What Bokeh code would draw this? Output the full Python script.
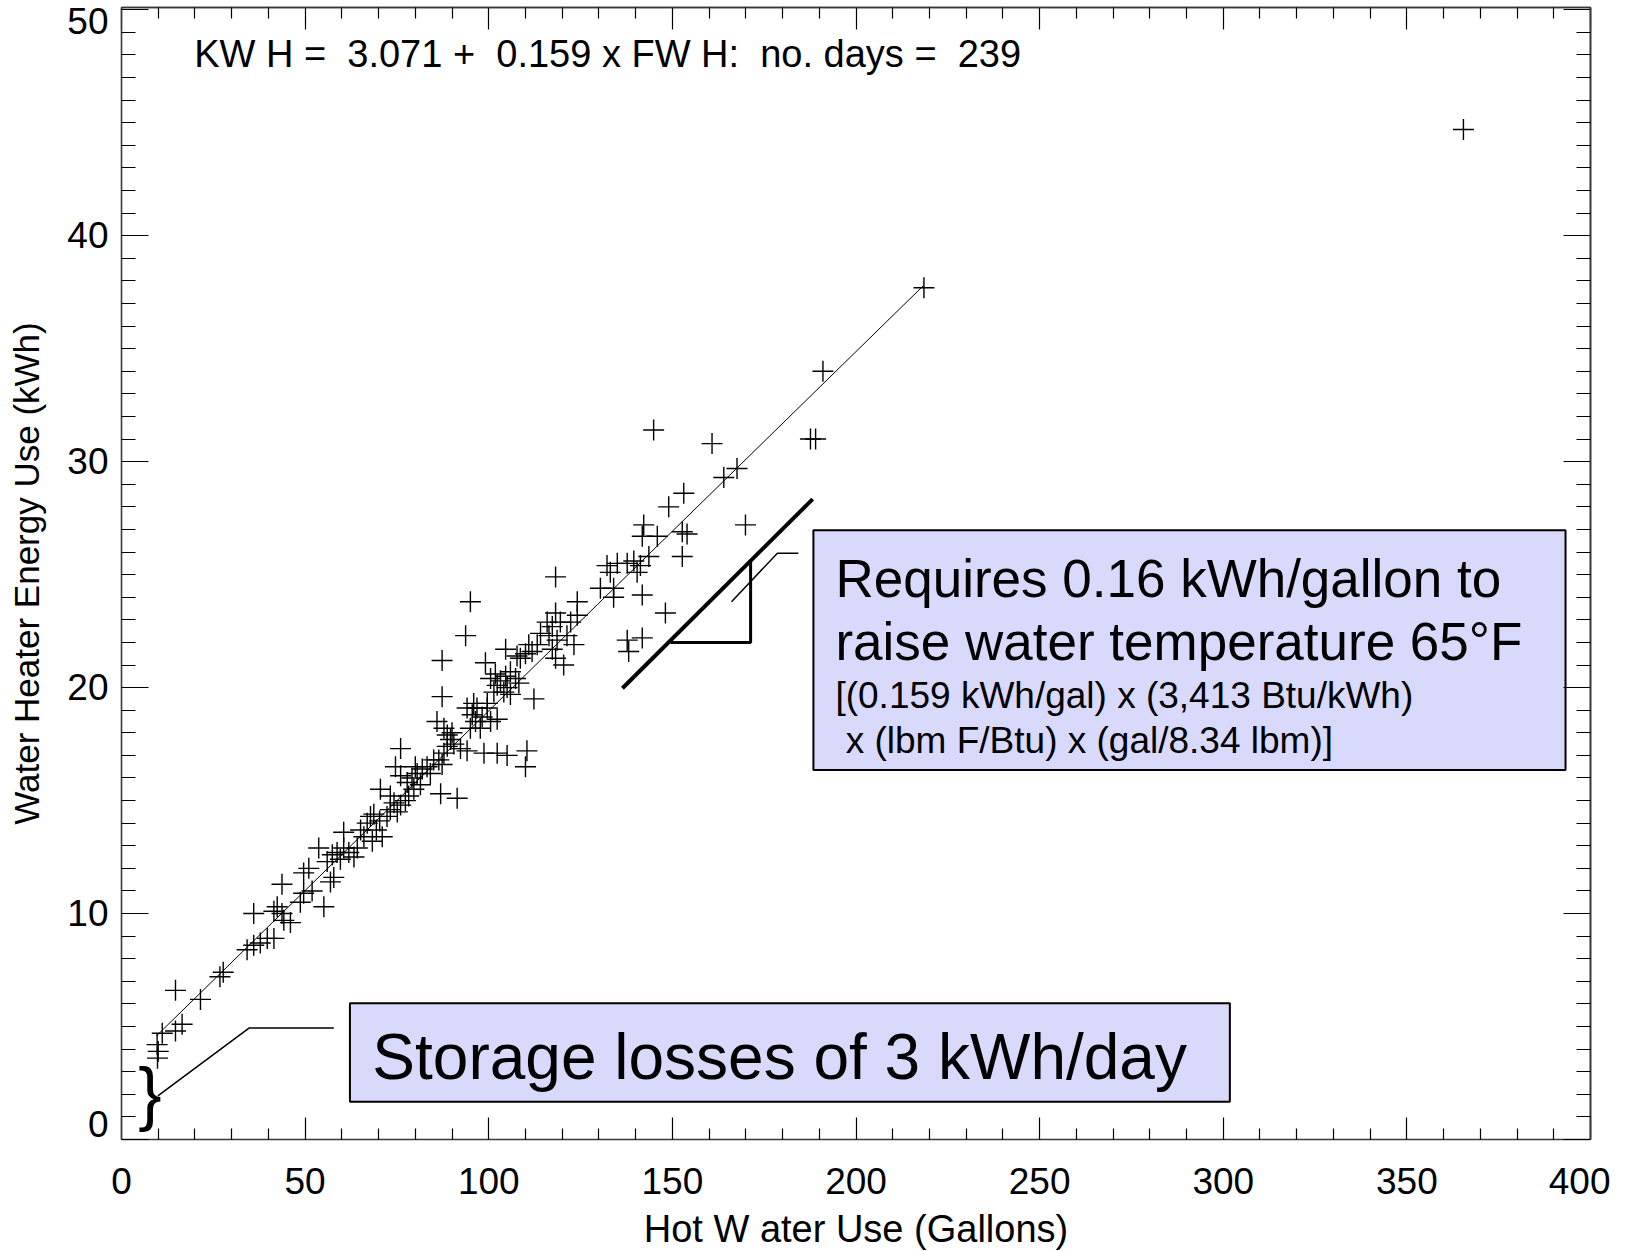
from bokeh.plotting import figure
from bokeh.models import LinearAxis, FixedTicker, Range1d
from bokeh.embed import file_html
from bokeh.resources import INLINE
from bokeh.core.properties import value

FONT = "Liberation Sans"
NB = "\u00a0"

# ---------------- data ----------------
gallons = [
    9.7, 10.0, 9.8, 11.1, 14.7, 14.7, 16.5, 21.5, 26.8, 27.7,
    34.2, 36.0, 37.8, 39.7, 41.5, 36.0, 42.4, 43.7, 44.2, 46.0,
    41.5, 48.7, 49.6, 55.1, 43.7, 49.6, 51.0, 56.9, 57.8, 51.9,
    53.7, 56.0, 57.4, 58.7, 59.6, 60.5, 61.9, 63.3, 64.2, 60.5,
    65.1, 66.0, 66.9, 68.3, 68.7, 69.4, 70.3, 71.0, 72.3, 67.8,
    70.5, 73.2, 76.0, 74.6, 76.0, 74.2, 76.0, 77.3, 75.1, 78.2,
    73.2, 77.8, 79.1, 80.5, 81.9, 79.6, 81.4, 83.2, 84.1, 85.0,
    80.0, 86.9, 91.4, 87.3, 86.4, 87.8, 88.7, 89.6, 90.5, 87.3,
    90.0, 88.7, 85.9, 87.8, 92.3, 94.1, 98.7, 102.3, 105.0, 110.4,
    110.0, 112.3, 94.1, 95.5, 96.4, 96.8, 97.7, 98.2, 99.6, 100.5,
    99.6, 102.3, 101.4, 104.1, 105.9, 95.9, 95.0,
    118.2, 95.0, 93.7, 87.3, 99.1, 104.6, 107.7, 108.6, 110.0, 111.8,
    110.9, 113.2, 100.5, 101.8, 103.2, 104.6, 105.9, 107.3, 108.2, 102.3,
    105.0, 115.9, 117.3, 118.2, 119.5, 116.4, 118.6, 117.3, 118.2, 120.4,
    114.1, 123.2, 121.3, 124.1, 124.1, 122.3, 130.4, 134.0, 134.0, 133.1,
    132.2, 135.0, 137.7, 139.5, 140.4, 141.3, 141.8, 148.1, 137.7, 141.8,
    138.1,
    144.9, 160.8, 187.6, 189.0, 167.6, 164.0, 153.1, 149.0, 142.2, 141.8,
    145.9, 152.7, 154.0, 143.6, 152.7, 169.9,
    191.0, 218.5, 365.4,
]
kwh = [
    4.2, 3.9, 3.6, 4.7, 6.6, 4.8, 5.1, 6.2, 7.2, 7.4,
    8.4, 8.6, 8.7, 8.9, 8.9, 10.0, 10.3, 10.0, 9.7, 9.6,
    10.1, 10.5, 10.9, 10.3, 11.3, 11.8, 12.0, 11.4, 11.6, 11.0,
    12.9, 12.3, 12.6, 12.7, 12.4, 12.9, 12.7, 12.5, 12.9, 13.6,
    13.7, 13.4, 14.0, 13.2, 14.4, 13.7, 14.1, 13.4, 14.3, 14.3,
    15.5, 15.2, 17.3, 16.5, 16.1, 14.9, 14.8, 15.0, 14.5, 15.2,
    14.6, 15.8, 16.0, 16.2, 16.4, 15.5, 15.7, 16.5, 16.2, 16.8,
    16.5, 15.3, 15.1, 19.6, 16.8, 17.1, 17.4, 17.7, 17.5, 16.6,
    18.0, 17.9, 18.5, 18.2, 17.3, 17.2, 17.1, 17.1, 17.0, 17.2,
    16.5, 19.5, 19.1, 18.8, 18.5, 19.1, 18.2, 18.7, 19.1, 18.5,
    19.3, 18.6, 19.8, 19.8, 19.7, 19.3, 18.2,
    24.9, 23.8, 22.3, 21.2, 21.1, 21.7, 21.4, 21.3, 21.5, 21.6,
    21.9, 21.9, 20.4, 20.6, 20.3, 20.5, 20.7, 20.4, 20.2, 20.1,
    20.0, 22.9, 22.7, 23.3, 22.9, 22.3, 22.1, 21.7, 21.3, 21.0,
    22.4, 21.9, 22.3, 23.8, 23.2, 22.9, 24.4, 24.4, 24.0, 25.1,
    25.4, 25.5, 25.5, 25.6, 25.1, 25.4, 24.1, 23.3, 22.1, 22.2,
    21.6,
    31.4, 30.8, 31.0, 31.0, 29.7, 29.3, 28.6, 28.0, 27.2, 26.7,
    26.7, 26.9, 26.8, 25.8, 25.8, 27.2,
    34.0, 37.7, 44.7,
]

fit_intercept = 3.071
fit_slope = 0.159
n_days = 239
fit_x = [9.5, 218.5]
fit_y = [fit_intercept + fit_slope * v for v in fit_x]

x_major_ticks = [0, 50, 100, 150, 200, 250, 300, 350, 400]
y_major_ticks = [0, 10, 20, 30, 40, 50]
x_minor_step = 10
y_minor_step = 1
x_minor_ticks = [v for v in range(0, 401, x_minor_step) if v not in x_major_ticks]
y_minor_ticks = [v for v in range(0, 51, y_minor_step) if v not in y_major_ticks]

equation_text = ("KW H =" + NB + " 3.071 +" + NB + " 0.159 x FW H:" + NB + " no. days =" + NB
                 + " " + str(n_days))
storage_text = "Storage losses of 3 kWh/day"
req_lines_big = ["Requires 0.16 kWh/gallon to", "raise water temperature 65°F"]
req_lines_small = ["[(0.159 kWh/gal) x (3,413 Btu/kWh)", NB + "x (lbm F/Btu) x (gal/8.34 lbm)]"]

# annotation geometry (data units)
slope_bar_x = [136.4, 188.2]
slope_bar_y = [19.97, 28.34]
tri_x = [149.5, 171.3, 171.3]
tri_y = [22.0, 22.0, 25.6]
req_leader_x = [166.1, 178.6, 184.3]
req_leader_y = [23.8, 25.95, 25.95]
sto_leader_x = [9.9, 34.8, 57.8]
sto_leader_y = [1.93, 4.94, 4.94]

# ---------------- figure ----------------
p = figure(frame_width=1469, frame_height=1132,
           x_range=Range1d(0, 400), y_range=Range1d(0, 50.1),
           output_backend="svg", toolbar_location=None,
           min_border_left=121, min_border_top=7, min_border_right=20,
           min_border_bottom=104,
           background_fill_color="white", border_fill_color="white")
p.grid.visible = False
p.outline_line_color = None

AX_COL = "#3a3a3a"
TICK_FS = "37px"


def style_axis(ax, major_in, minor_in):
    ax.axis_line_color = AX_COL
    ax.axis_line_width = 1.6
    ax.major_tick_in = major_in
    ax.major_tick_out = 0
    ax.minor_tick_in = minor_in
    ax.minor_tick_out = 0
    ax.major_tick_line_color = "black"
    ax.minor_tick_line_color = "black"
    ax.major_tick_line_width = 1.2
    ax.minor_tick_line_width = 1.2
    ax.major_label_text_font = FONT
    ax.major_label_text_font_size = TICK_FS
    ax.major_label_text_color = "black"
    ax.axis_label_text_font = FONT
    ax.axis_label_text_font_style = "normal"
    ax.axis_label_text_color = "black"


xa = p.xaxis[0]
xa.ticker = FixedTicker(ticks=x_major_ticks, minor_ticks=x_minor_ticks)
style_axis(xa, 22, 11)
xa.major_label_standoff = 28
xa.axis_label = "Hot W ater Use (Gallons)"
xa.axis_label_text_font_size = "38px"
xa.axis_label_standoff = 11

ya = p.yaxis[0]
ya.ticker = FixedTicker(ticks=y_major_ticks, minor_ticks=y_minor_ticks)
style_axis(ya, 27, 14)
ya.major_label_standoff = 13
# the bottom label sits a little above its tick, as in the original
ya.major_label_text_line_height = 0.75
ya.major_label_overrides = {y_major_ticks[0]: str(y_major_ticks[0]) + "\n" + NB}
ya.axis_label = "Water Heater Energy Use (kWh)"
ya.axis_label_text_font_size = "35px"
ya.axis_label_standoff = 18


def tick_only_axis(ticks, length):
    ax = LinearAxis(ticker=FixedTicker(ticks=[], minor_ticks=ticks))
    ax.axis_line_color = AX_COL
    ax.axis_line_width = 1.6
    ax.major_tick_in = 0
    ax.major_tick_out = 0
    ax.minor_tick_in = length
    ax.minor_tick_out = 0
    ax.minor_tick_line_color = "black"
    ax.minor_tick_line_width = 1.2
    ax.major_label_standoff = 0
    return ax


p.add_layout(tick_only_axis(x_major_ticks, 22), "above")
p.add_layout(tick_only_axis(x_minor_ticks, 11), "above")
p.add_layout(tick_only_axis(y_major_ticks, 27), "right")
p.add_layout(tick_only_axis(y_minor_ticks, 14), "right")

# ---------------- marks ----------------
p.line(fit_x, fit_y, line_color="black", line_width=1)
p.scatter(gallons, kwh, marker="cross", size=21, line_color="black", line_width=1.4)

TXT = dict(text_font=value(FONT), text_align="left", text_baseline="middle",
           text_color="black")

# equation
p.text(x=[19.8], y=[48.02], text=[equation_text], text_font_size="38px", **TXT)

# slope illustration
p.line(slope_bar_x, slope_bar_y, line_color="black", line_width=4)
p.line(tri_x, tri_y, line_color="black", line_width=3)
p.line(req_leader_x, req_leader_y, line_color="black", line_width=1.5)

# storage illustration
p.line(sto_leader_x, sto_leader_y, line_color="black", line_width=1.5)
p.text(x=[7.76], y=[2.05], text=["}"], text_font=value(FONT), text_font_size="70px",
       text_align="center", text_baseline="middle", text_color="black")

# boxes
BOX_FILL = "#d9d9fc"
p.quad(left=[62.2], right=[301.8], top=[6.03], bottom=[1.67], fill_color=BOX_FILL,
       line_color="black", line_width=2)
p.quad(left=[188.4], right=[393.2], top=[26.96], bottom=[16.35], fill_color=BOX_FILL,
       line_color="black", line_width=2)

p.text(x=[68.3], y=[3.63], text=[storage_text], text_font_size="64px", **TXT)
p.text(x=[194.4, 194.4], y=[24.83, 22.06], text=req_lines_big, text_font_size="53px", **TXT)
p.text(x=[194.4, 194.4], y=[19.66, 17.64], text=req_lines_small, text_font_size="37px", **TXT)

open("out.html", "w").write(file_html(p, INLINE))
